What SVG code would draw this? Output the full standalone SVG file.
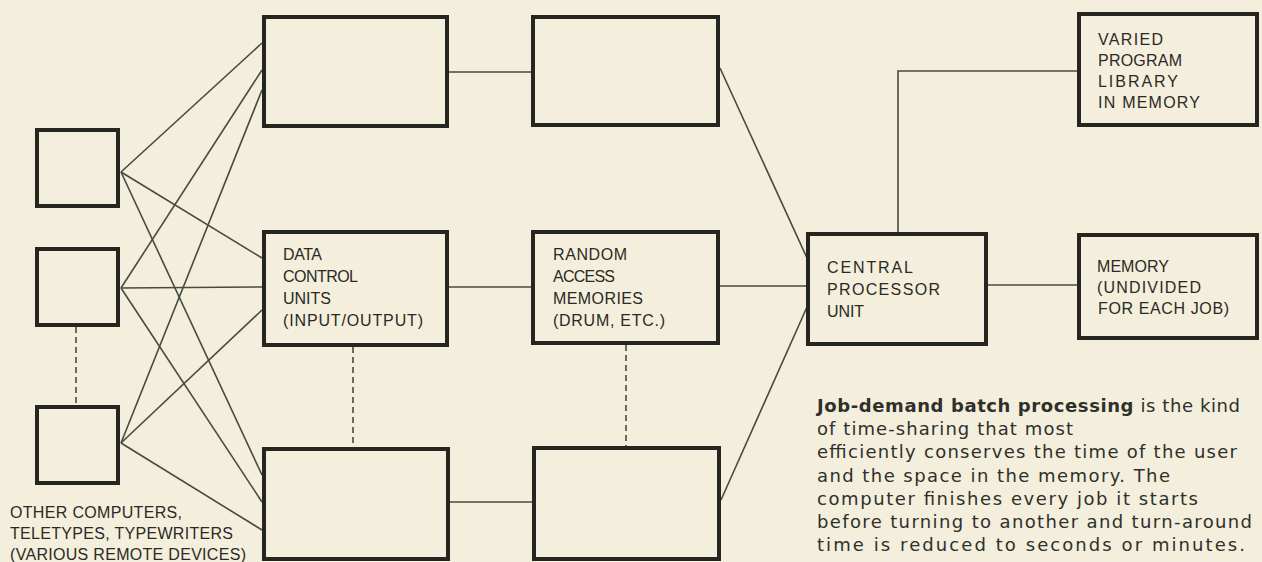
<svg xmlns="http://www.w3.org/2000/svg" width="1262" height="562" viewBox="0 0 1262 562">
<style>
.box{fill:#f4eedd;stroke:#25261f;stroke-width:4}
.ln{stroke:#464b40;stroke-width:1.6;fill:none}
.dash{stroke:#464b40;stroke-width:1.6;fill:none;stroke-dasharray:6 4}
.lbl{font-family:"Liberation Sans",Arial,sans-serif;font-size:16px;fill:#2a2a24}
.par{font-family:"DejaVu Sans","Liberation Sans",sans-serif;font-size:18px;fill:#2f302a}
.b{font-weight:bold}
</style>
<rect width="1262" height="562" fill="#f4eedd"/>
<g id="connectors">
<line class="ln" x1="121" y1="172" x2="262" y2="43"/>
<line class="ln" x1="121" y1="172" x2="262" y2="258"/>
<line class="ln" x1="121" y1="172" x2="262" y2="475"/>
<line class="ln" x1="121" y1="288" x2="262" y2="70"/>
<line class="ln" x1="121" y1="288" x2="262" y2="287"/>
<line class="ln" x1="121" y1="288" x2="262" y2="502"/>
<line class="ln" x1="121" y1="443" x2="262" y2="90"/>
<line class="ln" x1="121" y1="443" x2="262" y2="310"/>
<line class="ln" x1="121" y1="443" x2="262" y2="530"/>
<line class="dash" x1="76" y1="327" x2="76" y2="405"/>
<line class="dash" x1="353" y1="347" x2="353" y2="447"/>
<line class="dash" x1="626" y1="345" x2="626" y2="446"/>
<line class="ln" x1="449" y1="72" x2="531" y2="72"/>
<line class="ln" x1="449" y1="287" x2="531" y2="287"/>
<line class="ln" x1="450" y1="502" x2="532" y2="502"/>
<line class="ln" x1="720" y1="68" x2="807" y2="258"/>
<line class="ln" x1="720" y1="286" x2="807" y2="286"/>
<line class="ln" x1="721" y1="500" x2="807" y2="307"/>
<line class="ln" x1="988" y1="285" x2="1077" y2="285"/>
<polyline class="ln" points="898,232 898,71 1077,71"/>
</g>
<g id="device1"><rect class="box" x="37" y="130" width="81" height="76"/></g>
<g id="device2"><rect class="box" x="37" y="249" width="81" height="76"/></g>
<g id="device3"><rect class="box" x="37" y="407" width="81" height="76"/></g>
<g id="devices-label">
<text class="lbl" x="10" y="518" textLength="172" lengthAdjust="spacing">OTHER COMPUTERS,</text>
<text class="lbl" x="10" y="539" textLength="223" lengthAdjust="spacing">TELETYPES, TYPEWRITERS</text>
<text class="lbl" x="10" y="560" textLength="236" lengthAdjust="spacing">(VARIOUS REMOTE DEVICES)</text>
</g>
<g id="dcu-top"><rect class="box" x="264" y="17" width="183" height="109"/></g>
<g id="dcu-mid">
<rect class="box" x="264" y="232" width="183" height="113"/>
<text class="lbl" x="283" y="260" textLength="39" lengthAdjust="spacing">DATA</text>
<text class="lbl" x="283" y="282" textLength="75" lengthAdjust="spacing">CONTROL</text>
<text class="lbl" x="283" y="304" textLength="48" lengthAdjust="spacing">UNITS</text>
<text class="lbl" x="283" y="326" textLength="140" lengthAdjust="spacing">(INPUT/OUTPUT)</text>
</g>
<g id="dcu-bot"><rect class="box" x="264" y="449" width="184" height="110"/></g>
<g id="ram-top"><rect class="box" x="533" y="17" width="185" height="108"/></g>
<g id="ram-mid">
<rect class="box" x="533" y="232" width="185" height="111"/>
<text class="lbl" x="553" y="260" textLength="74" lengthAdjust="spacing">RANDOM</text>
<text class="lbl" x="553" y="282" textLength="62" lengthAdjust="spacing">ACCESS</text>
<text class="lbl" x="553" y="304" textLength="90" lengthAdjust="spacing">MEMORIES</text>
<text class="lbl" x="553" y="326" textLength="112" lengthAdjust="spacing">(DRUM, ETC.)</text>
</g>
<g id="ram-bot"><rect class="box" x="534" y="448" width="185" height="111"/></g>
<g id="cpu">
<rect class="box" x="808" y="234" width="178" height="110"/>
<text class="lbl" x="827" y="273" textLength="86" lengthAdjust="spacing">CENTRAL</text>
<text class="lbl" x="827" y="295" textLength="113" lengthAdjust="spacing">PROCESSOR</text>
<text class="lbl" x="827" y="317" textLength="37" lengthAdjust="spacing">UNIT</text>
</g>
<g id="library">
<rect class="box" x="1079" y="14" width="178" height="111"/>
<text class="lbl" x="1098" y="45" textLength="65" lengthAdjust="spacing">VARIED</text>
<text class="lbl" x="1098" y="66" textLength="84" lengthAdjust="spacing">PROGRAM</text>
<text class="lbl" x="1098" y="87" textLength="80" lengthAdjust="spacing">LIBRARY</text>
<text class="lbl" x="1098" y="108" textLength="102" lengthAdjust="spacing">IN MEMORY</text>
</g>
<g id="memory">
<rect class="box" x="1079" y="235" width="178" height="103"/>
<text class="lbl" x="1097" y="272" textLength="72" lengthAdjust="spacing">MEMORY</text>
<text class="lbl" x="1097" y="293" textLength="104" lengthAdjust="spacing">(UNDIVIDED</text>
<text class="lbl" x="1098" y="314" textLength="131" lengthAdjust="spacing">FOR EACH JOB)</text>
</g>
<g id="caption">
<text class="par" x="817" y="412" textLength="423" lengthAdjust="spacing"><tspan class="b">Job-demand batch processing</tspan> is the kind</text>
<text class="par" x="817" y="435" textLength="256" lengthAdjust="spacing">of time-sharing that most</text>
<text class="par" x="817" y="458" textLength="420" lengthAdjust="spacing">efficiently conserves the time of the user</text>
<text class="par" x="817" y="482" textLength="353" lengthAdjust="spacing">and the space in the memory. The</text>
<text class="par" x="817" y="505" textLength="381" lengthAdjust="spacing">computer finishes every job it starts</text>
<text class="par" x="817" y="528" textLength="435" lengthAdjust="spacing">before turning to another and turn-around</text>
<text class="par" x="817" y="551" textLength="428" lengthAdjust="spacing">time is reduced to seconds or minutes.</text>
</g>
</svg>
